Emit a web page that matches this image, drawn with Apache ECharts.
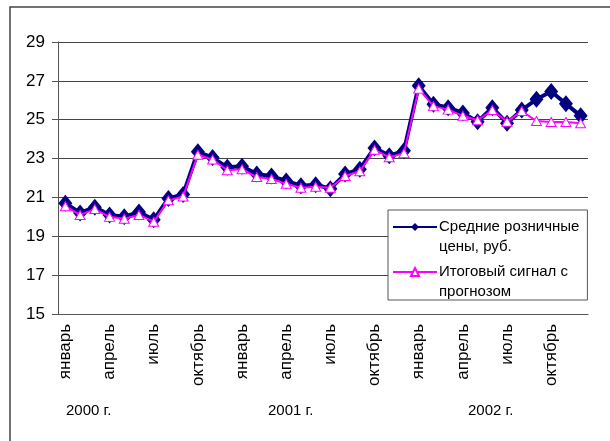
<!DOCTYPE html>
<html>
<head>
<meta charset="utf-8">
<script src="https://cdn.jsdelivr.net/npm/echarts@6/dist/echarts.min.js"></script>
<style>
  html, body { margin: 0; padding: 0; background: #fff; }
  #chart { width: 610px; height: 441px; }
</style>
</head>
<body>
<div id="chart"></div>
<script>
// месяцы 2000-2002
var monthNames = ['январь', 'февраль', 'март', 'апрель', 'май', 'июнь',
    'июль', 'август', 'сентябрь', 'октябрь', 'ноябрь', 'декабрь'];
var months = monthNames.concat(monthNames, monthNames);

var yearLabels = ['2000 г.', '2001 г.', '2002 г.'];

// Средние розничные цены, руб.
var prices = [20.7, 20.2, 20.5, 20.1, 20.0, 20.25, 19.85, 20.95, 21.15, 23.35, 23.05, 22.55,
    22.6, 22.2, 22.1, 21.85, 21.6, 21.65, 21.45, 22.2, 22.45, 23.55, 23.15, 23.4,
    26.75, 25.8, 25.62, 25.35, 24.9, 25.62, 24.82, 25.5, 26.05, 26.45, 25.82, 25.2];

// Итоговый сигнал с прогнозом
var signal = [20.55, 20.1, 20.4, 20.0, 19.9, 20.1, 19.75, 20.85, 21.05, 23.2, 22.95, 22.4,
    22.45, 22.05, 21.95, 21.7, 21.5, 21.55, 21.5, 22.1, 22.35, 23.45, 23.07, 23.28,
    26.6, 25.7, 25.52, 25.2, 24.97, 25.5, 24.9, 25.45, 24.93, 24.88, 24.88, 24.82];

var font = 'Liberation Sans, Arial, sans-serif';

// пустая первая строка, чтобы значок легенды стоял на уровне первой строки подписи
var name1 = '\nСредние розничные\nцены, руб.';
var name2 = '\nИтоговый сигнал с\nпрогнозом';

window.addEventListener('load', initChart);

function initChart() {
    var chart = echarts.init(document.getElementById('chart'));

    var option = {
        animation: false,
        backgroundColor: '#fff',
        textStyle: { fontFamily: font },
        grid: {
            left: 58,
            right: 22,
            top: 42,
            bottom: 127
        },
        legend: {
            orient: 'vertical',
            left: 388,
            top: 210,
            width: 209,
            padding: [-13, 8, -2, 4],
            itemGap: -15,
            itemWidth: 44,
            itemHeight: 10,
            borderColor: '#555',
            borderWidth: 1,
            backgroundColor: '#fff',
            textStyle: {
                fontFamily: font,
                fontSize: 15,
                color: '#000',
                lineHeight: 20,
                padding: [0, 0, 0, -3]
            },
            data: [name1, name2]
        },
        xAxis: {
            type: 'category',
            boundaryGap: true,
            data: months,
            axisLine: { lineStyle: { color: '#555', width: 1 } },
            axisTick: {
                interval: 0,
                length: 5,
                lineStyle: { color: '#555' }
            },
            axisLabel: {
                interval: 2,
                rotate: 90,
                margin: 10,
                fontFamily: font,
                fontSize: 17,
                color: '#000'
            }
        },
        yAxis: {
            type: 'value',
            min: 15,
            max: 29,
            interval: 2,
            axisLine: { show: true, lineStyle: { color: '#555', width: 1 } },
            axisTick: { show: true, length: 6, lineStyle: { color: '#555' } },
            axisLabel: {
                margin: 13,
                fontFamily: font,
                fontSize: 17,
                color: '#000'
            },
            splitLine: { lineStyle: { color: '#444', width: 1 } }
        },
        graphic: [
            {
                type: 'rect',
                shape: { x: 10, y: 7, width: 620, height: 460 },
                style: { fill: 'none', stroke: '#444', lineWidth: 1.5 },
                silent: true
            },
            {
                type: 'text', left: 66, top: 403,
                style: { text: yearLabels[0], font: '15px ' + font, fill: '#000' }
            },
            {
                type: 'text', left: 268, top: 403,
                style: { text: yearLabels[1], font: '15px ' + font, fill: '#000' }
            },
            {
                type: 'text', left: 468, top: 403,
                style: { text: yearLabels[2], font: '15px ' + font, fill: '#000' }
            }
        ],
        series: [
            {
                name: name1,
                type: 'line',
                data: prices,
                showAllSymbol: true,
                symbol: 'diamond',
                symbolSize: [14, 17],
                lineStyle: { color: '#000080', width: 4 },
                itemStyle: { color: '#000080' },
                z: 2
            },
            {
                name: name2,
                type: 'line',
                data: signal,
                showAllSymbol: true,
                symbol: 'triangle',
                symbolSize: [10, 9],
                lineStyle: { color: '#ff00ff', width: 2 },
                itemStyle: { color: '#fff', borderColor: '#ff00ff', borderWidth: 1 },
                z: 3
            }
        ]
    };

    chart.setOption(option);
}
</script>
</body>
</html>
